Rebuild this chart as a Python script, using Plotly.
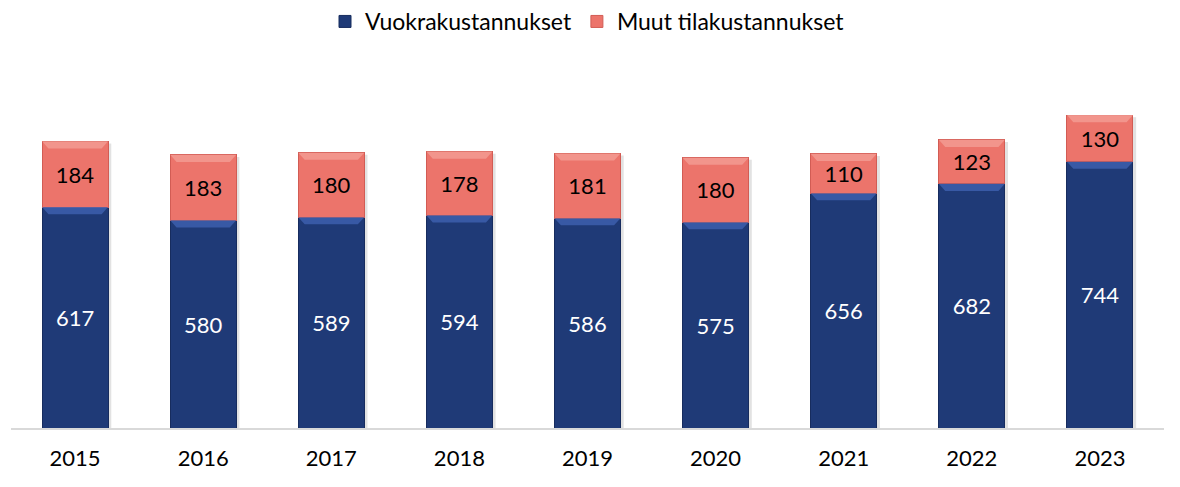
import plotly.graph_objects as go

years = ["2015", "2016", "2017", "2018", "2019", "2020", "2021", "2022", "2023"]
vuokra = [617, 580, 589, 594, 586, 575, 656, 682, 744]
muut = [184, 183, 180, 178, 181, 180, 110, 123, 130]

BLUE = "#1F3A77"
BLUE_HI = "#3F62B0"
BLUE_EDGE = "#172C5E"
RED = "#EC746B"
RED_HI = "#F49D95"
RED_EDGE = "#D25C54"
FONT = "Lato"

bargap = 0.485
w = 1 - bargap

fig = go.Figure()
fig.add_trace(go.Bar(
    x=years, y=vuokra, name="Vuokrakustannukset",
    marker=dict(color=BLUE, line=dict(color=BLUE_EDGE, width=1)),
    text=[str(v) for v in vuokra], textposition="inside", insidetextanchor="middle",
    textfont=dict(color="white", size=22, family=FONT),
))
fig.add_trace(go.Bar(
    x=years, y=muut, name="Muut tilakustannukset",
    marker=dict(color=RED, line=dict(color=RED_EDGE, width=1)),
    text=[str(v) for v in muut], textposition="inside", insidetextanchor="middle",
    textfont=dict(color="black", size=22, family=FONT),
))

# bevel highlights and soft shadows, computed from data
shapes = []
h = 20   # bevel height in data units
d = 0.05  # bevel inset in category units
for i, (a, b) in enumerate(zip(vuokra, muut)):
    x0, x1 = i - w / 2, i + w / 2
    shapes.append(dict(type="rect", x0=x0 + 0.02, x1=x1 + 0.025, y0=-4, y1=a + b - 6,
                       xref="x", yref="y", fillcolor="#BFBFBF", opacity=0.45,
                       line=dict(width=0), layer="below"))
    for top, col in ((a, BLUE_HI), (a + b, RED_HI)):
        path = f"M {x0},{top} L {x1},{top} L {x1-d},{top-h} L {x0+d},{top-h} Z"
        shapes.append(dict(type="path", path=path, xref="x", yref="y",
                           fillcolor=col, line=dict(width=0), opacity=0.8, layer="above"))

fig.update_layout(
    width=1180, height=487,
    barmode="stack", bargap=bargap,
    plot_bgcolor="rgba(0,0,0,0)", paper_bgcolor="white",
    margin=dict(l=11, r=16, t=70, b=59),
    font=dict(family=FONT, size=22, color="black"),
    showlegend=True,
    legend=dict(orientation="h", x=0.5, xanchor="center", y=1.0, yanchor="top",
                yref="container", font=dict(size=23, family=FONT, color="black"),
                traceorder="normal"),
    xaxis=dict(showgrid=False, showline=True, linecolor="#D9D9D9", linewidth=1.5,
               ticks="", ticklabelstandoff=10,
               tickfont=dict(size=22, family=FONT, color="black")),
    yaxis=dict(range=[0, 1000], visible=False),
    shapes=shapes,
    uniformtext=dict(mode="show", minsize=10),
)

fig.write_html("out.html", config={"displayModeBar": False},
               post_script="document.body.style.margin='0';")
